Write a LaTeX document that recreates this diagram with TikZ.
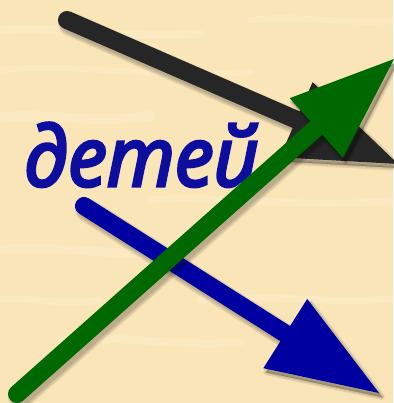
\documentclass[tikz,border=0pt]{standalone}
\usepackage{fontspec}
\newfontfamily\opensans[FakeBold=4]{Open Sans}
\usetikzlibrary{calc}
\definecolor{wood}{RGB}{250,229,184}
\definecolor{woodlight}{RGB}{255,243,215}
\definecolor{arrblack}{RGB}{38,38,38}
\definecolor{arrblue}{RGB}{0,0,160}
\definecolor{arrgreen}{RGB}{0,104,0}
\definecolor{txtblue}{RGB}{14,14,158}
\newcommand\myarrow[5]{% start, tip, colour, head length, half width
  \coordinate (#2-base) at ($(#2)!#4pt!(#1)$);
  \coordinate (#2-l) at ($(#2-base)!#5pt!90:(#2)$);
  \coordinate (#2-r) at ($(#2-base)!#5pt!-90:(#2)$);
  \begin{scope}[transform canvas={shift={(3pt,-4pt)}}]
    \foreach \w in {6,3,0}{
      \draw[shaft, line width=18pt+\w pt, black, opacity=.09] (#1) -- (#2-base);
      \filldraw[line width=\w pt, line join=round, black, opacity=.09] (#2) -- (#2-l) -- (#2-r) -- cycle;
    }
  \end{scope}
  \draw[shaft, #3] (#1) -- (#2-base);
  \fill[#3] (#2) -- (#2-l) -- (#2-r) -- cycle;
}
\begin{document}
\begin{tikzpicture}[x=1pt,y=-1pt,
  shaft/.style={line width=18pt, line cap=round},
  streak/.style={woodlight, opacity=.35, line cap=round},
  label/.style={anchor=base west, inner sep=0pt, xscale=.95, font=\opensans\itshape\fontsize{82}{82}\selectfont}]
\useasboundingbox (0,0) rectangle (393,403);
\fill[wood] (0,0) rectangle (393,403);
% wood grain
\draw[streak, line width=8pt] (-5,30) .. controls (60,24) and (120,40) .. (200,34);
\draw[streak, line width=6pt] (0,70) .. controls (80,62) and (150,80) .. (250,72);
\draw[streak, line width=10pt] (-5,118) .. controls (40,112) and (90,124) .. (150,116);
\draw[streak, line width=7pt] (150,200) .. controls (220,194) and (300,210) .. (400,200);
\draw[streak, line width=9pt] (-5,250) .. controls (60,244) and (120,258) .. (170,252);
\draw[streak, line width=7pt] (200,300) .. controls (260,292) and (330,306) .. (400,298);
\draw[streak, line width=8pt] (60,340) .. controls (120,334) and (180,348) .. (240,342);
\draw[streak, line width=6pt] (250,20) .. controls (300,14) and (350,26) .. (400,20);
\draw[streak, line width=7pt] (-5,300) .. controls (30,296) and (60,306) .. (100,300);
% arrows and text
\coordinate (b1) at (67,20);
\coordinate (b2) at (398,164);
\coordinate (u1) at (84,206);
\coordinate (u2) at (379,393);
\coordinate (g1) at (17,394);
\coordinate (g2) at (394,59);
\myarrow{b1}{b2}{arrblack}{111}{41}
\node[label, text=txtblue] (t) at (24,186) {детей};
\myarrow{u1}{u2}{arrblue}{111}{41}
\myarrow{g1}{g2}{arrgreen}{104}{40}
\end{tikzpicture}
\end{document}
